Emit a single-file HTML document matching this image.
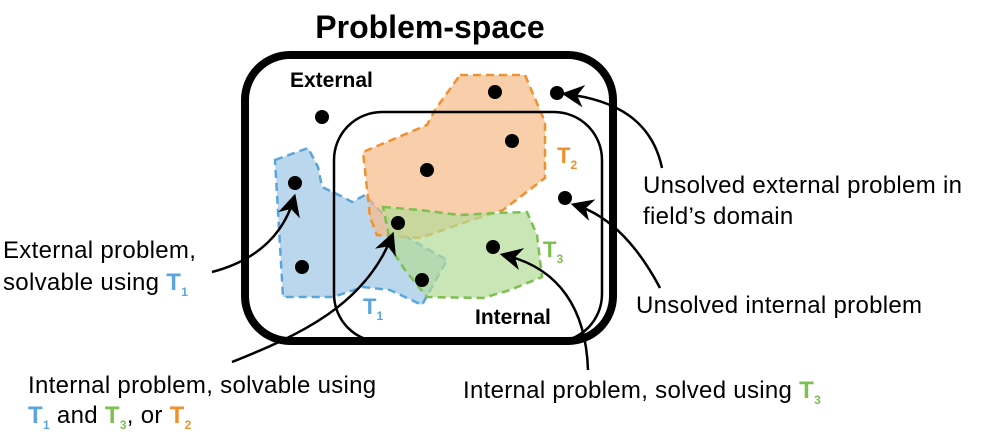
<!DOCTYPE html>
<html><head><meta charset="utf-8"><style>
html,body{margin:0;padding:0;background:#fff;}
svg{display:block;font-family:"Liberation Sans",Arial,sans-serif;}
</style></head><body>
<svg width="1000" height="447" viewBox="0 0 1000 447">
<defs>
<marker id="ah" viewBox="0 0 10 10" refX="8" refY="5" markerWidth="9" markerHeight="9" orient="auto" markerUnits="strokeWidth">
<path d="M0,0 L10,5 L0,10 L3,5 z" fill="#000"/>
</marker>
</defs>
<text x="430" y="38" text-anchor="middle" font-size="32" font-weight="bold">Problem-space</text>

<g>
<polygon points="275,160 308,148 318,167 322,187 343,197 352,202 365,195 403,235 447,260 422,305 390,290 363,287 333,297 283,297" fill="#a9cdea" fill-opacity="0.8" stroke="#5aa5dc" stroke-width="2.5" stroke-dasharray="8,5"/>
<polygon points="460,75 525,75 545,122 545,178 503,210 463,223 420,238 377,235 370,217 363,152 427,125 435,110" fill="#f6b987" fill-opacity="0.7" stroke="#f0912e" stroke-width="2.5" stroke-dasharray="8,5"/>
<polygon points="383,207 420,210 460,215 495,213 527,212 537,235 542,277 510,290 483,298 427,297 405,270 392,250" fill="#b3dc98" fill-opacity="0.7" stroke="#7bc050" stroke-width="2.5" stroke-dasharray="8,5"/>
</g>

<rect x="334" y="112" width="268" height="230" rx="48" fill="none" stroke="#000" stroke-width="2.5"/>
<rect x="245" y="55" width="368" height="286" rx="45" fill="none" stroke="#000" stroke-width="8"/>

<text x="290" y="87" font-size="21" font-weight="bold">External</text>
<text x="475" y="324" font-size="21" font-weight="bold">Internal</text>
<text x="557" y="163" font-size="22" font-weight="bold" fill="#f0912e">T<tspan font-size="12" dy="6">2</tspan></text>
<text x="543" y="257" font-size="22" font-weight="bold" fill="#7bc050">T<tspan font-size="12" dy="6">3</tspan></text>
<text x="363" y="314" font-size="22" font-weight="bold" fill="#5aa5dc">T<tspan font-size="12" dy="6">1</tspan></text>

<g id="dots"></g>

<g fill="none" stroke="#000" stroke-width="2.5">
<path d="M212,272 C250,262 282,240 294,198" marker-end="url(#ah)"/>
<path d="M232,362 C300,335 365,305 392,236" marker-end="url(#ah)"/>
<path d="M662,168 C652,120 615,100 566,94" marker-end="url(#ah)"/>
<path d="M660,288 C640,250 612,216 575,205" marker-end="url(#ah)"/>
<path d="M588,370 C586,310 560,268 504,255" marker-end="url(#ah)"/>
</g>

<g font-size="24" letter-spacing="0.3">
<text x="3" y="258">External problem,</text>
<text x="3" y="290">solvable using <tspan fill="#5aa5dc" font-weight="bold">T<tspan font-size="12" dy="6">1</tspan></tspan></text>
<text x="28" y="393">Internal problem, solvable using</text>
<text x="28" y="423"><tspan fill="#5aa5dc" font-weight="bold">T<tspan font-size="12" dy="6">1</tspan></tspan><tspan dy="-6"> and </tspan><tspan fill="#7bc050" font-weight="bold">T<tspan font-size="12" dy="6">3</tspan></tspan><tspan dy="-6">, or </tspan><tspan fill="#f0912e" font-weight="bold">T<tspan font-size="12" dy="6">2</tspan></tspan></text>
<text x="643" y="193">Unsolved external problem in</text>
<text x="643" y="224">field’s domain</text>
<text x="636" y="313">Unsolved internal problem</text>
<text x="463" y="398">Internal problem, solved using <tspan fill="#7bc050" font-weight="bold">T<tspan font-size="12" dy="6">3</tspan></tspan></text>
</g>
</svg>
<script>
const dotX = [322, 495, 557, 512, 427, 295, 398, 565, 493, 302, 422];
const dotY = [117, 92, 93, 141, 170, 183, 223, 198, 247, 267, 280];
const g = document.getElementById('dots');
for (let i = 0; i < dotX.length; i++) {
  const c = document.createElementNS('http://www.w3.org/2000/svg', 'circle');
  c.setAttribute('cx', dotX[i]);
  c.setAttribute('cy', dotY[i]);
  c.setAttribute('r', 7);
  c.setAttribute('fill', '#000');
  
  
  g.appendChild(c);
}
</script>
</body></html>
